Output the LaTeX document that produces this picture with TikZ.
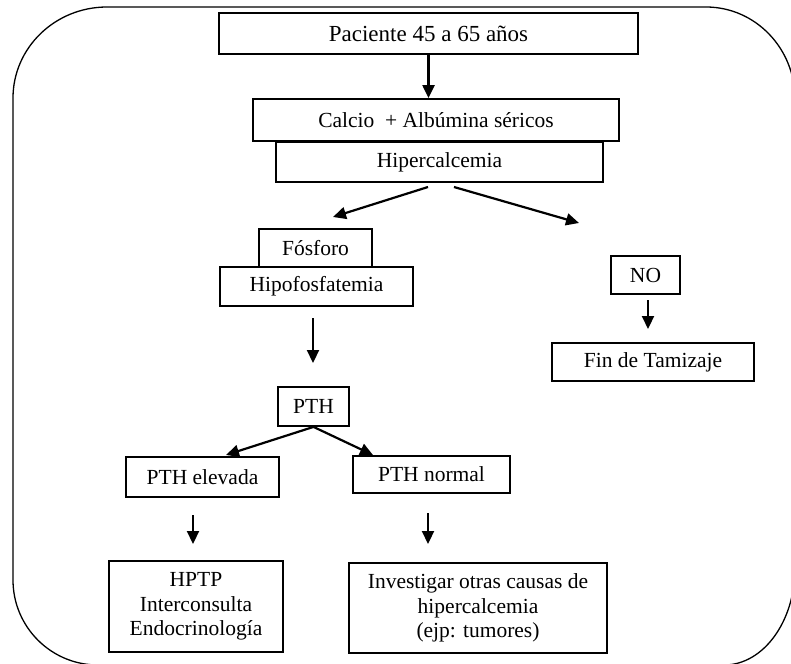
\documentclass[tikz,border=0pt]{standalone}
\usepackage{fontspec}
\setmainfont{Liberation Serif}
\usetikzlibrary{arrows.meta}
\begin{document}
\begin{tikzpicture}[x=1pt,y=1pt,
  box/.style={draw, line width=1.8pt, inner sep=0pt, align=center,
    font=\fontsize{21.5}{24.5}\selectfont},
  bigtext/.style={font=\fontsize{23}{26}\selectfont},
  arr/.style={line width=2.2pt, -{Triangle[length=13pt,width=12pt]}},
  frameline/.style={line width=1.3pt}]
\useasboundingbox (0,0) rectangle (791,-663);
\clip (0,0) rectangle (791,-663);

% outer rounded frame
\draw[frameline] (107,-7) -- (706,-7)
  arc[start angle=90, end angle=0, x radius=89, y radius=92]
  -- (795,-568)
  arc[start angle=0, end angle=-90, x radius=71, y radius=97]
  -- (98,-665)
  arc[start angle=270, end angle=180, x radius=85, y radius=85]
  -- (13,-98)
  arc[start angle=180, end angle=90, x radius=94, y radius=91];

% boxes
\node[box, bigtext, minimum width=419pt, minimum height=41pt] (pac) at (428.5,-33.5) {Paciente 45 a 65 años};
\node[box, minimum width=366pt, minimum height=42pt] (calc) at (436,-120) {Calcio~~+ Albúmina séricos};
\node[box, minimum width=327pt, minimum height=40pt] (hiper) at (439.5,-162) {Hipercalcemia};
\node[box, minimum width=113pt, minimum height=38pt] (fosf) at (315.5,-248) {Fósforo};
\node[box, minimum width=193pt, minimum height=39pt] (hipof) at (316.5,-286.5) {Hipofosfatemia};
\node[box, minimum width=71pt, minimum height=39pt] (pth) at (313.5,-406.5) {PTH};
\node[box, minimum width=69pt, minimum height=38pt] (no) at (645.5,-275) {NO};
\node[box, minimum width=202pt, minimum height=38pt] (fin) at (653,-362) {Fin de Tamizaje};
\node[box, minimum width=153pt, minimum height=40pt] (elev) at (202.5,-477) {PTH elevada};
\node[box, minimum width=157pt, minimum height=37pt] (norm) at (431.5,-474.5) {PTH normal};
\node[box, minimum width=174pt, minimum height=91pt] (hptp) at (196,-606.5) {HPTP\\Interconsulta\\Endocrinología};
\node[box, minimum width=258pt, minimum height=90pt] (inv) at (478,-608) {Investigar otras causas de\\hipercalcemia\\(ejp: tumores)};

% free arrow ends
\coordinate (a1) at (428,-187);
\coordinate (a2) at (333,-217);
\coordinate (b1) at (454,-187);
\coordinate (b2) at (579,-223);
\coordinate (c1) at (313,-318);
\coordinate (c2) at (313,-363);
\coordinate (d1) at (226,-455);
\coordinate (d2) at (373,-455);
\coordinate (e1) at (648,-300);
\coordinate (e2) at (648,-329);
\coordinate (f1) at (193,-515);
\coordinate (f2) at (193,-544);
\coordinate (g1) at (428,-513);
\coordinate (g2) at (428,-544);

% connectors
\draw[arr] (pac.south) -- (pac.south |- calc.north);
\draw[arr] (a1) -- (a2);
\draw[arr] (b1) -- (b2);
\draw[arr] (c1) -- (c2);
\draw[arr] (pth.south) -- (d1);
\draw[arr] (pth.south) -- (d2);
\draw[arr] (e1) -- (e2);
\draw[arr] (f1) -- (f2);
\draw[arr] (g1) -- (g2);
\end{tikzpicture}
\end{document}
